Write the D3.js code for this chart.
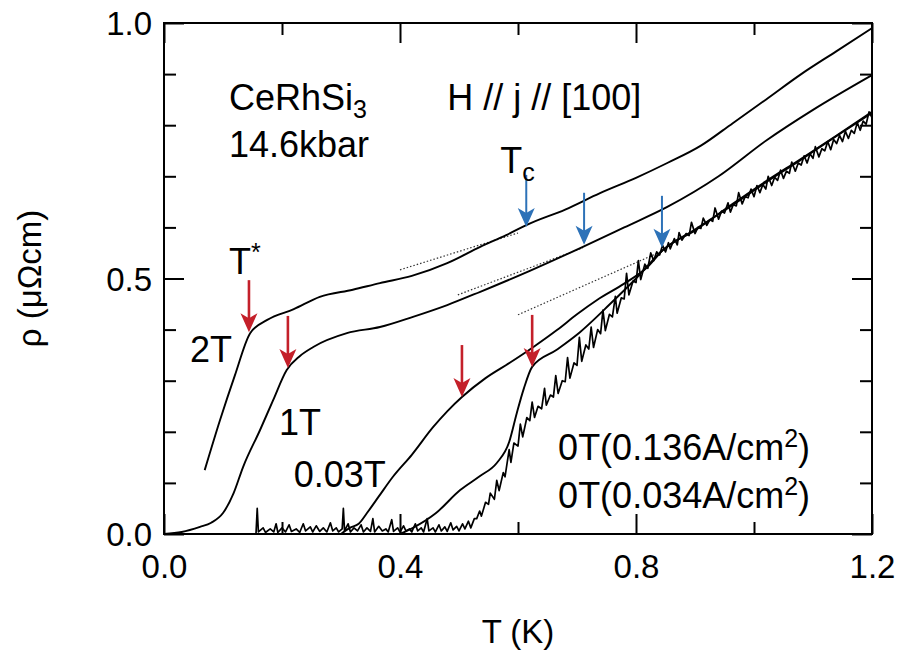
<!DOCTYPE html>
<html>
<head>
<meta charset="utf-8">
<script src="https://cdn.jsdelivr.net/npm/d3@7"></script>
<style>
  body { margin: 0; background: #fff; }
  text { font-family: "Liberation Sans", Arial, sans-serif; fill: #000; }
</style>
</head>
<body>
<svg id="chart" width="899" height="656"></svg>
<script>
// rho (uOhm cm) vs T (K)
const curve2T = [[0.069,0.125],[0.095,0.223],[0.12,0.31],[0.146,0.393],[0.175,0.419],[0.22,0.44],[0.264,0.464],[0.32,0.478],[0.366,0.491],[0.42,0.505],[0.48,0.53],[0.536,0.562],[0.58,0.585],[0.615,0.605],[0.68,0.635],[0.739,0.667],[0.8,0.697],[0.853,0.726],[0.91,0.76],[0.964,0.804],[1.02,0.85],[1.08,0.9],[1.14,0.945],[1.2,0.99]]
const curve1T = [[0.0,0.0],[0.03,0.004],[0.061,0.014],[0.08,0.022],[0.1,0.041],[0.118,0.08],[0.134,0.131],[0.163,0.204],[0.185,0.262],[0.208,0.321],[0.23,0.348],[0.253,0.366],[0.31,0.393],[0.366,0.405],[0.422,0.425],[0.48,0.448],[0.536,0.474],[0.62,0.515],[0.71,0.562],[0.78,0.6],[0.853,0.64],[0.94,0.7],[1.022,0.771],[1.1,0.83],[1.2,0.898]]
const curve003T = [[0.3,0.0],[0.315,0.012],[0.33,0.02],[0.344,0.041],[0.365,0.075],[0.388,0.112],[0.42,0.155],[0.456,0.209],[0.48,0.24],[0.505,0.268],[0.545,0.305],[0.586,0.335],[0.625,0.365],[0.666,0.399],[0.7,0.43],[0.734,0.458],[0.78,0.49],[0.819,0.522],[0.846,0.556],[0.9,0.594],[0.964,0.646],[1.02,0.69],[1.078,0.733],[1.14,0.78],[1.2,0.826]]
const curve0Thigh = [[0.40,0.0],[0.422,0.012],[0.46,0.04],[0.502,0.086],[0.535,0.113],[0.564,0.139],[0.585,0.18],[0.598,0.237],[0.61,0.285],[0.624,0.327],[0.665,0.36],[0.705,0.395],[0.756,0.45],[0.8,0.5],[0.846,0.556],[0.9,0.596],[0.964,0.644],[1.02,0.688],[1.078,0.731],[1.14,0.779],[1.2,0.824]]
// low current: noisy trace
const curve0Tlow = [
  [0.156,0.002],[0.158,0.05],[0.16,0.004],[0.168,0.012],[0.172,0.003],[0.18,0.01],[0.186,0.004],[0.19,0.02],[0.193,0.003],[0.2,0.012],
  [0.206,0.004],[0.212,0.018],[0.216,0.005],[0.224,0.01],[0.23,0.003],[0.236,0.02],[0.24,0.006],[0.248,0.014],[0.252,0.004],[0.258,0.016],
  [0.264,0.005],[0.27,0.012],[0.276,0.004],[0.282,0.022],[0.286,0.006],[0.292,0.012],[0.296,0.004],[0.302,0.01],[0.304,0.05],[0.306,0.006],
  [0.312,0.02],[0.316,0.004],[0.322,0.012],[0.328,0.006],[0.334,0.018],[0.338,0.004],[0.344,0.012],[0.35,0.005],[0.354,0.03],[0.357,0.004],
  [0.364,0.015],[0.37,0.006],[0.376,0.01],[0.38,0.004],[0.386,0.028],[0.389,0.005],[0.396,0.012],[0.4,0.004],[0.406,0.016],[0.41,0.006],
  [0.416,0.01],[0.42,0.004],[0.426,0.02],[0.43,0.006],[0.436,0.012],[0.44,0.004],[0.446,0.03],[0.449,0.006],[0.456,0.012],[0.46,0.004],
  [0.466,0.018],[0.47,0.006],[0.476,0.014],[0.48,0.005],[0.486,0.022],[0.49,0.008],[0.496,0.015],[0.5,0.006],[0.506,0.02],[0.51,0.01],
  [0.516,0.025],[0.52,0.012],[0.526,0.03],
  [0.53,0.03],[0.535,0.045],[0.538,0.035],[0.545,0.062],[0.55,0.058],[0.553,0.08],[0.56,0.068],[0.564,0.105],[0.568,0.085],[0.575,0.12],
  [0.578,0.112],[0.585,0.165],[0.588,0.14],[0.593,0.178],[0.6,0.172],[0.604,0.215],[0.608,0.19],[0.615,0.228],[0.62,0.222],[0.624,0.258],
  [0.628,0.228],[0.634,0.25],[0.64,0.245],[0.645,0.285],[0.648,0.252],[0.655,0.272],[0.66,0.268],[0.664,0.31],[0.668,0.275],[0.675,0.3],
  [0.68,0.298],[0.684,0.345],[0.688,0.305],[0.695,0.335],[0.7,0.33],[0.704,0.385],[0.708,0.338],[0.715,0.37],[0.72,0.362],[0.724,0.405],
  [0.728,0.365],[0.735,0.4],[0.74,0.392],[0.744,0.438],[0.748,0.398],[0.755,0.43],[0.76,0.425],[0.765,0.465],[0.768,0.432],[0.775,0.462],
  [0.78,0.46],[0.784,0.51],[0.788,0.468],[0.795,0.495],[0.8,0.492],[0.804,0.535],[0.808,0.498],[0.815,0.528],[0.82,0.52],[0.825,0.55],
  [0.83,0.535],[0.835,0.552],[0.84,0.546],[0.845,0.565],[0.85,0.552],
  [0.855,0.57],[0.858,0.558],[0.865,0.578],[0.87,0.566],[0.873,0.59],[0.878,0.575],[0.885,0.588],[0.89,0.584],[0.894,0.61],[0.9,0.588],
  [0.905,0.6],[0.91,0.598],[0.914,0.618],[0.92,0.604],[0.925,0.615],[0.93,0.612],[0.934,0.638],[0.94,0.616],[0.945,0.632],[0.95,0.628],
  [0.956,0.648],[0.96,0.63],[0.965,0.645],[0.97,0.642],[0.974,0.668],[0.98,0.646],[0.985,0.66],[0.99,0.658],[0.995,0.675],[1.0,0.66],
  [1.005,0.682],[1.01,0.668],[1.015,0.684],[1.02,0.675],[1.024,0.7],[1.03,0.682],[1.035,0.698],[1.04,0.692],[1.045,0.712],[1.05,0.696],
  [1.055,0.71],[1.06,0.706],[1.064,0.728],[1.07,0.71],[1.075,0.726],[1.08,0.722],[1.085,0.74],[1.09,0.726],[1.095,0.744],[1.1,0.735],
  [1.104,0.758],[1.11,0.738],[1.115,0.754],[1.12,0.75],[1.125,0.768],[1.13,0.752],[1.135,0.772],[1.14,0.764],[1.145,0.78],[1.15,0.768],
  [1.155,0.788],[1.16,0.774],[1.165,0.79],[1.17,0.784],[1.175,0.805],[1.18,0.79],[1.185,0.808],[1.19,0.802],[1.195,0.826],[1.2,0.815]
]

// normal-state extrapolations (dotted)
const dotted2T = [[0.4,0.517],[0.6,0.589]]
const dotted1T = [[0.498,0.468],[0.71,0.56]]
const dotted0T = [[0.6,0.429],[0.841,0.552]]

// arrow tips: T* (red) and Tc (blue)
const tStarT = [0.144, 0.210, 0.505, 0.624]
const tStarRho = [0.395, 0.325, 0.268, 0.327]
const tcT = [0.614, 0.712, 0.844]
const tcRho = [0.601, 0.566, 0.560]

const xMajor = [0, 0.4, 0.8, 1.2]
const xMinor = [0.2, 0.6, 1.0]
const yMajor = [0, 0.5, 1.0]
const yMinor = [0.1, 0.2, 0.3, 0.4, 0.6, 0.7, 0.8, 0.9]

const mLeft = 164, mRight = 872, mTop = 23, mBottom = 534
const svg = d3.select('#chart')
svg.append('rect').attr('width', 899).attr('height', 656).attr('fill', '#fff')

const x = d3.scaleLinear().domain([0, 1.2]).range([mLeft, mRight])
const y = d3.scaleLinear().domain([0, 1.0]).range([mBottom, mTop])

const clip = svg.append('clipPath').attr('id', 'clip')
clip.append('rect').attr('x', mLeft).attr('y', mTop).attr('width', mRight - mLeft).attr('height', mBottom - mTop)

// ticks (inward), all four sides
function ticks(axis, tr, len, vals, labels) {
  const g = svg.append('g').attr('transform', tr)
    .call(axis.tickValues(vals).tickSize(-len).tickPadding(12).tickFormat(labels ? d3.format('.1f') : ''))
  g.select('.domain').remove()
  g.selectAll('line').attr('stroke', '#000').attr('stroke-width', 2)
  g.selectAll('text').style('font-size', '33px').attr('fill', '#000')
  return g
}
const gx = ticks(d3.axisBottom(x), 'translate(0,' + mBottom + ')', 20, xMajor, true)
gx.selectAll('text').attr('y', 13).attr('dy', '0.95em')
ticks(d3.axisBottom(x), 'translate(0,' + mBottom + ')', 12, xMinor, false)
ticks(d3.axisTop(x), 'translate(0,' + mTop + ')', 20, xMajor, false)
ticks(d3.axisTop(x), 'translate(0,' + mTop + ')', 12, xMinor, false)
const gy = ticks(d3.axisLeft(y), 'translate(' + mLeft + ',0)', 20, yMajor, true)
gy.selectAll('text').attr('x', -12).attr('dy', '0.36em')
ticks(d3.axisLeft(y), 'translate(' + mLeft + ',0)', 12, yMinor, false)
ticks(d3.axisRight(y), 'translate(' + mRight + ',0)', 20, yMajor, false)
ticks(d3.axisRight(y), 'translate(' + mRight + ',0)', 12, yMinor, false)

// frame
svg.append('rect').attr('x', mLeft).attr('y', mTop).attr('width', mRight - mLeft).attr('height', mBottom - mTop)
  .attr('fill', 'none').attr('stroke', '#000').attr('stroke-width', 2)

const plot = svg.append('g').attr('clip-path', 'url(#clip)')
const smooth = d3.line().x(d => x(d[0])).y(d => y(d[1])).curve(d3.curveMonotoneX)
const jagged = d3.line().x(d => x(d[0])).y(d => y(d[1]))

;[dotted2T, dotted1T, dotted0T].forEach(function (d) {
  plot.append('path').attr('d', jagged(d)).attr('fill', 'none')
    .attr('stroke', '#333').attr('stroke-width', 1.2).attr('stroke-dasharray', '1.5,2')
})
plot.append('path').attr('d', jagged(curve0Tlow)).attr('fill', 'none').attr('stroke', '#000')
  .attr('stroke-width', 1.7).attr('stroke-linejoin', 'round')
;[curve2T, curve1T, curve003T, curve0Thigh].forEach(function (d) {
  plot.append('path').attr('d', smooth(d)).attr('fill', 'none').attr('stroke', '#000').attr('stroke-width', 1.9)
})

function arrow(T, rho, color, w) {
  const cx = x(T), ty = y(rho)
  svg.append('line').attr('x1', cx).attr('x2', cx).attr('y1', ty - 52).attr('y2', ty - 12)
    .attr('stroke', color).attr('stroke-width', w)
  svg.append('path')
    .attr('d', 'M' + cx + ',' + ty + 'L' + (cx - 8.5) + ',' + (ty - 19) + 'L' + cx + ',' + (ty - 14) + 'L' + (cx + 8.5) + ',' + (ty - 19) + 'Z')
    .attr('fill', color)
}
tStarT.forEach((t, i) => arrow(t, tStarRho[i], '#c4202a', 2.6))
tcT.forEach((t, i) => arrow(t, tcRho[i], '#2d72b8', 2))

// labels
function label(T, rho, parts) {
  const t = svg.append('text').attr('x', x(T)).attr('y', y(rho)).style('font-size', '36px')
  parts.forEach(function (p) {
    const s = t.append('tspan').text(p[0])
    if (p[1] === 'sub') s.attr('dy', 8).style('font-size', '25px')
    if (p[1] === 'sup') s.attr('dy', -13).style('font-size', '25px')
    if (p[1] === 'back') s.attr('dy', p[2])
  })
  return t
}
label(0.11, 0.830, [['CeRhSi'], ['3', 'sub']])
label(0.11, 0.738, [['14.6kbar']])
label(0.48, 0.830, [['H // j // [100]']])
label(0.57, 0.706, [['T'], ['c', 'sub']])
label(0.11, 0.509, [['T'], ['*', 'sup']])
label(0.044, 0.337, [['2T']])
label(0.195, 0.194, [['1T']])
label(0.22, 0.092, [['0.03T']])
label(0.668, 0.145, [['0T(0.136A/cm'], ['2', 'sup'], [')', 'back', 13]])
label(0.668, 0.051, [['0T(0.034A/cm'], ['2', 'sup'], [')', 'back', 13]])

// axis titles
svg.append('text').attr('x', x(0.6)).attr('y', 643).attr('text-anchor', 'middle')
  .style('font-size', '33px').text('T (K)')
svg.append('text').attr('transform', 'translate(41,' + y(0.5) + ')rotate(-90)').attr('text-anchor', 'middle')
  .style('font-size', '33px').text('ρ (μΩcm)')
</script>
</body>
</html>
